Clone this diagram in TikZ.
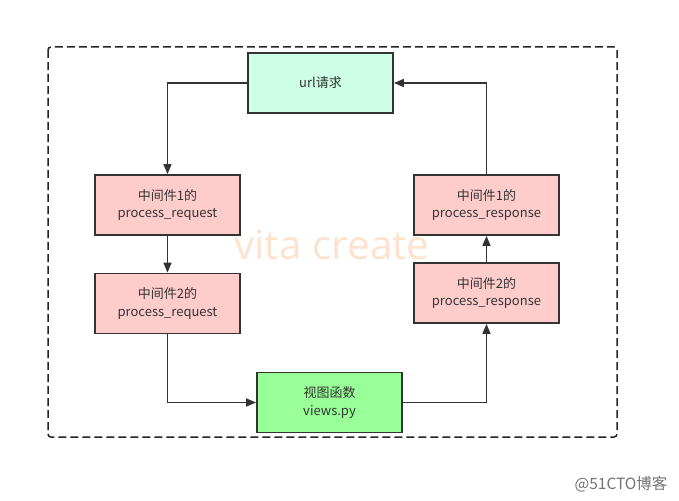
\documentclass[tikz,border=0pt]{standalone}
\usepackage{fontspec}
\setmainfont{Noto Sans CJK SC}
\newfontfamily\wmfont{Open Sans}
\usetikzlibrary{arrows.meta, positioning}

\definecolor{urlgruen}{HTML}{CCFFE6}
\definecolor{mwrosa}{HTML}{FFCCCC}
\definecolor{viewgruen}{HTML}{99FF99}
\definecolor{rahmen}{HTML}{333333}
\definecolor{wasser}{HTML}{FDE3CF}

\begin{document}
\begin{tikzpicture}[x=1pt, y=-1pt]

	% Stil für alle Kästen und Pfeile
	\tikzset{
		box/.style={draw=rahmen, line width=1.8pt, minimum width=145pt, minimum height=60pt,
			inner sep=0pt, align=center, font=\fontsize{13pt}{17.5pt}\selectfont, text=rahmen},
		pfeil/.style={draw=rahmen, line width=1.5pt, -{Triangle[length=10pt, width=8pt]}}
	}

	% Hintergrund und Rahmen
	\useasboundingbox[fill=white] (0,0) rectangle (679,500);
	\draw[line width=1.5pt, dash pattern=on 8pt off 4pt, rounded corners=3pt, black!85]
	(48,47) rectangle (617,437);

	% Wasserzeichen
	\node[text=wasser, font=\wmfont\fontsize{40.5pt}{44pt}\selectfont] (wm) at (332,245) {vita create};
	\node[text=black!55, font=\fontsize{15.5pt}{18pt}\selectfont, anchor=east] (blog) at (671,484) {@51CTO博客};

	% Knoten
	\node[box, fill=urlgruen] (url) at (320.5,83) {url请求};
	\node[box, fill=mwrosa] (req1) at (167.5,205) {中间件1的\\process\_request};
	\node[box, fill=mwrosa] (req2) at (167.5,303.5) {中间件2的\\process\_request};
	\node[box, fill=viewgruen] (view) at (329.5,402.5) {视图函数\\views.py};
	\node[box, fill=mwrosa] (resp2) at (486.5,293) {中间件2的\\process\_response};
	\node[box, fill=mwrosa] (resp1) at (486.5,205) {中间件1的\\process\_response};

	% Verbindungen
	\draw[pfeil] (url.west) -| (req1.north);
	\draw[pfeil] (req1) -- (req2);
	\draw[pfeil] (req2.south) |- (view.west);
	\draw[pfeil] (view.east) -| (resp2.south);
	\draw[pfeil] (resp2) -- (resp1);
	\draw[pfeil] (resp1.north) |- (url.east);

\end{tikzpicture}
\end{document}
